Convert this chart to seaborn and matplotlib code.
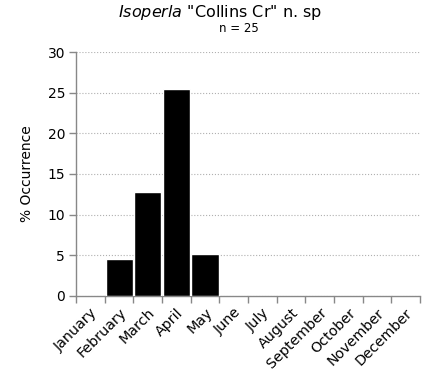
import pandas as pd
import matplotlib.pyplot as plt
import seaborn as sns

# Monthly % occurrence values
months = ['January', 'February', 'March', 'April', 'May', 'June', 'July',
          'August', 'September', 'October', 'November', 'December']
occurrence = [0, 4.5, 12.8, 25.4, 5.2, 0, 0, 0, 0, 0, 0, 0]
yticks = [0, 5, 10, 15, 20, 25, 30]

df = pd.DataFrame({'Month': months, 'Occurrence': occurrence})

sns.set_style("white")
plt.rcParams['font.family'] = ['DejaVu Sans']
plt.rcParams['mathtext.fontset'] = 'dejavusans'
plt.rcParams['text.color'] = 'black'
plt.rcParams['axes.labelcolor'] = 'black'
plt.rcParams['xtick.color'] = 'black'
plt.rcParams['ytick.color'] = 'black'

fig = plt.figure(figsize=(4.28, 3.77), dpi=100)
ax = fig.add_axes([0.178, 0.215, 0.803, 0.647])

sns.barplot(data=df, x='Month', y='Occurrence', color='black',
            width=0.95, saturation=1, ax=ax, zorder=3)

ax.set_ylim(0, 30)
ax.set_xlim(-0.5, 11.5)
ax.set_yticks(yticks)
ax.set_yticklabels([str(v) for v in yticks], fontsize=10)
ax.yaxis.grid(True, linestyle=':', color='#b0b0b0', linewidth=0.8, zorder=0)
ax.set_axisbelow(True)

# x tick marks at category boundaries, labels at centres
ax.set_xticks(range(12))
ax.set_xticklabels(months, rotation=45, ha='right', rotation_mode='anchor', fontsize=10.3)
ax.set_xticks([i - 0.5 for i in range(13)], minor=True)
ax.tick_params(axis='x', which='major', length=0, pad=7, bottom=True)
ax.tick_params(axis='x', which='minor', length=5, color='#888888', width=1,
               direction='out', bottom=True)
ax.tick_params(axis='y', length=5, color='#888888', width=1, direction='out',
               left=True, pad=3)

for s in ['top', 'right']:
    ax.spines[s].set_visible(False)
for s in ['left', 'bottom']:
    ax.spines[s].set_color('#888888')
    ax.spines[s].set_linewidth(1)

ax.set_xlabel('')
ax.set_ylabel('% Occurrence', fontsize=10, labelpad=10)

fig.text(220 / 428, 1 - 13 / 377, r'$\it{Isoperla}$ "Collins Cr" n. sp',
         ha='center', va='center', fontsize=11.5)
fig.text(239 / 428, 1 - 28 / 377, 'n = 25', ha='center', va='center', fontsize=8.5)

plt.savefig("out.png", dpi=100)
plt.close()
